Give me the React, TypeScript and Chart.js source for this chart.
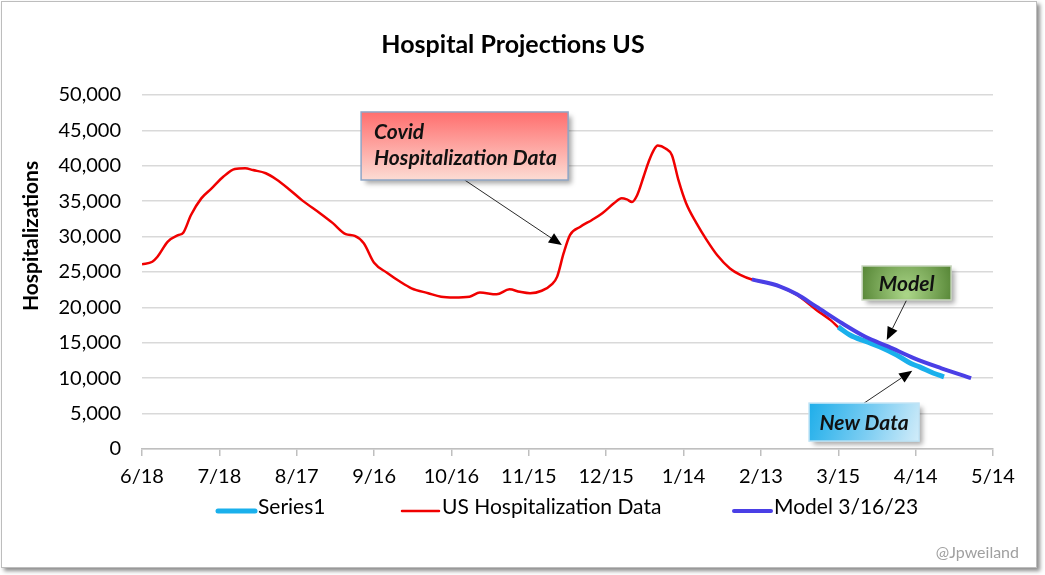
import React, { useEffect, useRef } from "react";
import { Chart, registerables } from "chart.js";

Chart.register(...registerables);

// X axis: days since 6/18/2022, one tick every 30 days
const xTickLabels = ["6/18", "7/18", "8/17", "9/16", "10/16", "11/15", "12/15", "1/14", "2/13", "3/15", "4/14", "5/14"];
const xTickStep = 30;

// US hospitalization data (day offset, patients)
const hospDays = [0, 4, 6, 10, 14, 16, 19, 23, 27, 31.5, 36, 40, 43, 48, 52, 57, 62, 69, 74, 79, 82.5, 86, 90, 95, 100, 104.5, 111, 116, 121, 127, 131, 137.5, 142.5, 146.5, 150.5, 155, 159, 161, 163.5, 166, 170, 174.5, 178.5, 183, 186, 188, 190, 192, 194.5, 196.5, 198.5, 200, 203, 205.5, 208, 211, 215, 219, 223, 228, 232, 236.5, 243.5, 247.5, 254, 261.5, 267, 270];
const hospValues = [26100, 26450, 27150, 29300, 30200, 30550, 33050, 35400, 36800, 38450, 39550, 39650, 39400, 38950, 38100, 36700, 35150, 33300, 31900, 30350, 30100, 29050, 26300, 24900, 23650, 22700, 22000, 21500, 21400, 21500, 22100, 21850, 22550, 22200, 22000, 22350, 23300, 24350, 27650, 30250, 31400, 32350, 33300, 34700, 35400, 35250, 34900, 35850, 38450, 40600, 42250, 42850, 42450, 41500, 38000, 34700, 31900, 29500, 27400, 25500, 24600, 23950, 23400, 22950, 21750, 19650, 18200, 17200];

// Model run of 3/16/23
const modelDays = [236.5, 247.5, 254, 261.5, 271.5, 280.5, 289.5, 299.5, 310, 321.5];
const modelValues = [23950, 22950, 21850, 20100, 17750, 15850, 14450, 12800, 11400, 10000];

// Newer reported data (Series1)
const newDays = [270, 274.5, 281, 286, 292.5, 298, 301.5, 307, 311];
const newValues = [17250, 16100, 15150, 14450, 13300, 12100, 11600, 10700, 10200];

const FONT = "Lato, 'Open Sans', sans-serif";

const toPoints = (xs: number[], ys: number[]) => xs.map((x, i) => ({ x, y: ys[i] }));

type Callout = {
  lines: string[];
  align: "left" | "center";
  box: { day: number; value: number; w: number; h: number };
  tip: { day: number; value: number };
  tailFromTop: boolean;
  fill: (ctx: CanvasRenderingContext2D, l: number, t: number, w: number, h: number) => CanvasGradient;
  border: string;
};

const callouts: Callout[] = [
  {
    lines: ["Covid", "Hospitalization Data"],
    align: "left",
    box: { day: 125.1, value: 42800, w: 207, h: 68 },
    tip: { day: 162.8, value: 28800 },
    tailFromTop: false,
    fill: (ctx, l, t, w, h) => {
      const g = ctx.createLinearGradient(0, t, 0, t + h);
      g.addColorStop(0, "#FF6E6E");
      g.addColorStop(1, "#FCDCD4");
      return g;
    },
    border: "#8FA6C6",
  },
  {
    lines: ["Model"],
    align: "center",
    box: { day: 296.5, value: 23450, w: 89, h: 34 },
    tip: { day: 288.8, value: 15400 },
    tailFromTop: false,
    fill: (ctx, l, t, w, h) => {
      const g = ctx.createRadialGradient(l + w / 2, t + h * 0.85, 2, l + w / 2, t + h / 2, w * 0.6);
      g.addColorStop(0, "#A9D486");
      g.addColorStop(1, "#4C7C2C");
      return g;
    },
    border: "#C8D6BE",
  },
  {
    lines: ["New Data"],
    align: "center",
    box: { day: 280, value: 3800, w: 110, h: 38 },
    tip: { day: 298.7, value: 11060 },
    tailFromTop: true,
    fill: (ctx, l, t, w, h) => {
      const g = ctx.createLinearGradient(l, t, l + w, t + h);
      g.addColorStop(0, "#1EAEEA");
      g.addColorStop(0.55, "#7CCDF2");
      g.addColorStop(1, "#D2ECF9");
      return g;
    },
    border: "#BFE3F5",
  },
];

const legendStarts = [216, 400, 732];

function drawArrow(ctx: CanvasRenderingContext2D, sx: number, sy: number, tx: number, ty: number) {
  const ang = Math.atan2(ty - sy, tx - sx);
  const len = 13;
  const half = 5.5;
  const bx = tx - Math.cos(ang) * len;
  const by = ty - Math.sin(ang) * len;
  ctx.strokeStyle = "#2A2A2A";
  ctx.lineWidth = 1;
  ctx.beginPath();
  ctx.moveTo(sx, sy);
  ctx.lineTo(bx, by);
  ctx.stroke();
  ctx.fillStyle = "#000";
  ctx.beginPath();
  ctx.moveTo(tx, ty);
  ctx.lineTo(bx + Math.sin(ang) * half, by - Math.cos(ang) * half);
  ctx.lineTo(bx - Math.sin(ang) * half, by + Math.cos(ang) * half);
  ctx.closePath();
  ctx.fill();
}

const decorPlugin = {
  id: "decor",
  beforeDraw(chart: any) {
    const { ctx, width, height } = chart;
    ctx.save();
    ctx.fillStyle = "#fff";
    ctx.fillRect(0, 0, width, height);
    ctx.shadowColor = "rgba(0,0,0,0.45)";
    ctx.shadowBlur = 4;
    ctx.shadowOffsetX = 3;
    ctx.shadowOffsetY = 3;
    ctx.fillRect(1, 1, 1036, 567);
    ctx.shadowColor = "transparent";
    ctx.strokeStyle = "#BDBDBD";
    ctx.lineWidth = 1;
    ctx.strokeRect(1.5, 1.5, 1035, 566);
    ctx.restore();
  },
  afterDatasetsDraw(chart: any) {
    const { ctx } = chart;
    const xs = chart.scales.x;
    const ys = chart.scales.y;
    ctx.save();
    for (const c of callouts) {
      const cx = xs.getPixelForValue(c.box.day);
      const cy = ys.getPixelForValue(c.box.value);
      const l = cx - c.box.w / 2;
      const t = cy - c.box.h / 2;
      const tx = xs.getPixelForValue(c.tip.day);
      const ty = ys.getPixelForValue(c.tip.value);
      drawArrow(ctx, cx, c.tailFromTop ? t : t + c.box.h, tx, ty);

      ctx.save();
      ctx.shadowColor = "rgba(0,0,0,0.35)";
      ctx.shadowBlur = 5;
      ctx.shadowOffsetX = 4;
      ctx.shadowOffsetY = 4;
      ctx.fillStyle = c.fill(ctx, l, t, c.box.w, c.box.h);
      ctx.fillRect(l, t, c.box.w, c.box.h);
      ctx.restore();
      ctx.strokeStyle = c.border;
      ctx.lineWidth = 1.5;
      ctx.strokeRect(l, t, c.box.w, c.box.h);

      ctx.fillStyle = "#111";
      ctx.font = `italic bold 21px ${FONT}`;
      ctx.textBaseline = "middle";
      if (c.align === "left") {
        ctx.textAlign = "left";
        c.lines.forEach((s, i) => ctx.fillText(s, l + 13, t + 20 + i * 26));
      } else {
        ctx.textAlign = "center";
        ctx.fillText(c.lines[0], cx, cy + 1);
      }
    }
    ctx.restore();
  },
  afterDraw(chart: any) {
    const { ctx } = chart;
    ctx.save();
    // title
    ctx.fillStyle = "#000";
    ctx.textAlign = "center";
    ctx.textBaseline = "middle";
    ctx.font = `bold 25px ${FONT}`;
    ctx.fillText("Hospital Projections US", 513, 45);

    // y axis title
    ctx.save();
    ctx.translate(31, 236);
    ctx.rotate(-Math.PI / 2);
    ctx.font = `bold 21px ${FONT}`;
    ctx.fillText("Hospitalizations", 0, 0);
    ctx.restore();

    // legend
    ctx.textAlign = "left";
    ctx.textBaseline = "alphabetic";
    ctx.font = `21px ${FONT}`;
    chart.data.datasets.forEach((ds: any, i: number) => {
      const x0 = legendStarts[i];
      ctx.strokeStyle = ds.borderColor;
      ctx.lineWidth = ds.borderWidth;
      ctx.lineCap = "round";
      ctx.beginPath();
      ctx.moveTo(x0 + 2, 511);
      ctx.lineTo(x0 + 39, 511);
      ctx.stroke();
      ctx.fillStyle = "#000";
      ctx.fillText(ds.label, x0 + 42, 514);
    });

    // credit
    ctx.textAlign = "right";
    ctx.textBaseline = "middle";
    ctx.fillStyle = "#A0A0A0";
    ctx.font = `16px ${FONT}`;
    ctx.fillText("@Jpweiland", 1019, 553);
    ctx.restore();
  },
};

export default function App() {
  const ref = useRef<HTMLCanvasElement>(null);

  useEffect(() => {
    const chart = new Chart(ref.current!, {
      type: "line",
      data: {
        datasets: [
          {
            label: "Series1",
            data: toPoints(newDays, newValues),
            borderColor: "#1AB0EC",
            borderWidth: 5,
            pointRadius: 0,
            cubicInterpolationMode: "monotone",
            order: 1,
          },
          {
            label: "US Hospitalization Data",
            data: toPoints(hospDays, hospValues),
            borderColor: "#F00000",
            borderWidth: 2.5,
            pointRadius: 0,
            cubicInterpolationMode: "monotone",
            order: 2,
          },
          {
            label: "Model 3/16/23",
            data: toPoints(modelDays, modelValues),
            borderColor: "#4A3FE6",
            borderWidth: 4,
            pointRadius: 0,
            cubicInterpolationMode: "monotone",
            order: 0,
          },
        ],
      },
      options: {
        responsive: false,
        animation: false,
        devicePixelRatio: 1,
        layout: { padding: { top: 95, right: 52, left: 0, bottom: 0 } },
        plugins: {
          legend: { display: false },
          title: { display: false },
          tooltip: { enabled: false },
        },
        scales: {
          x: {
            type: "linear",
            min: 0,
            max: xTickStep * (xTickLabels.length - 1),
            afterFit: (s: any) => {
              s.height = 126;
            },
            ticks: {
              stepSize: xTickStep,
              autoSkip: false,
              maxRotation: 0,
              padding: 9,
              color: "#000",
              font: { family: FONT, size: 20 },
              callback: (v: any) => xTickLabels[Math.round(Number(v) / xTickStep)] ?? "",
            },
            grid: {
              drawOnChartArea: false,
              drawTicks: true,
              tickLength: 7,
              color: "#BFBFBF",
              lineWidth: 1.5,
            },
            border: { color: "#BFBFBF", width: 1.5 },
          },
          y: {
            min: 0,
            max: 50000,
            afterFit: (s: any) => {
              s.width = 142;
            },
            ticks: {
              stepSize: 5000,
              padding: 21,
              color: "#000",
              font: { family: FONT, size: 20 },
              callback: (v: any) => Number(v).toLocaleString("en-US"),
            },
            grid: { color: "#D9D9D9", lineWidth: 1.5, drawTicks: false },
            border: { display: false },
          },
        },
      },
      plugins: [decorPlugin],
    });
    return () => chart.destroy();
  }, []);

  return (
    <div style={{ position: "absolute", left: 0, top: 0, width: 1045, height: 575 }}>
      <canvas ref={ref} width={1045} height={575} style={{ display: "block" }} />
    </div>
  );
}
